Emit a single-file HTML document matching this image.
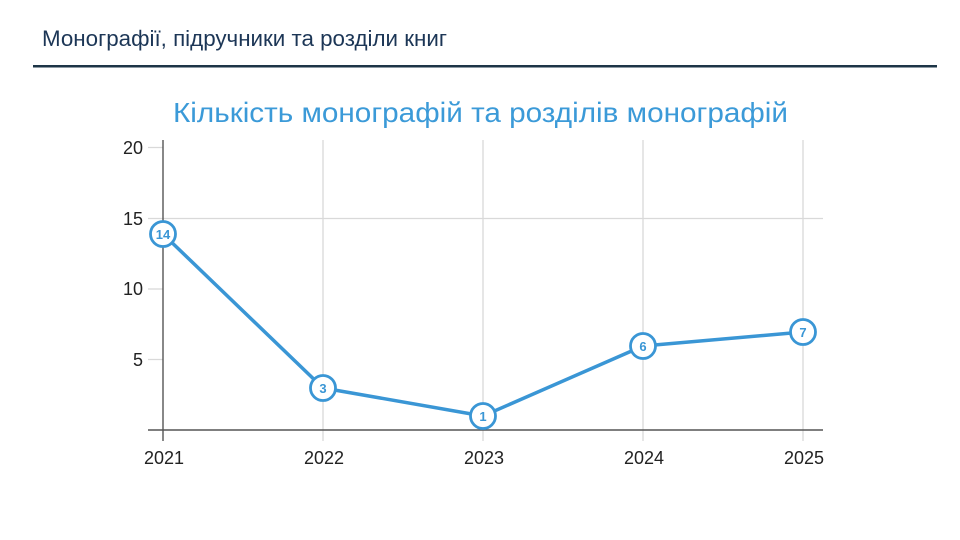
<!DOCTYPE html>
<html>
<head>
<meta charset="utf-8">
<style>
html,body{margin:0;padding:0;background:#fff;}
svg{display:block;}
</style>
</head>
<body>
<svg width="960" height="540" viewBox="0 0 960 540" xmlns="http://www.w3.org/2000/svg">
  <rect width="960" height="540" fill="#fff"/>
  <!-- header -->
  <text x="42" y="46" font-family="'Liberation Sans', sans-serif" font-size="22" fill="#1c3656" textLength="405" lengthAdjust="spacingAndGlyphs">Монографії, підручники та розділи книг</text>
  <rect x="33" y="65" width="904" height="2.5" fill="#1d3547"/>
  <!-- chart title -->
  <text x="480.5" y="122" text-anchor="middle" font-family="'Liberation Sans', sans-serif" font-size="28" fill="#3b9ad8" textLength="615" lengthAdjust="spacingAndGlyphs">Кількість монографій та розділів монографій</text>
  <!-- grid -->
  <g stroke="#d9d9d9" stroke-width="1.3">
    <line x1="148" y1="218.5" x2="823" y2="218.5"/>
    <line x1="323" y1="140" x2="323" y2="441"/>
    <line x1="483" y1="140" x2="483" y2="441"/>
    <line x1="643" y1="140" x2="643" y2="441"/>
    <line x1="803" y1="140" x2="803" y2="441"/>
    <line x1="148" y1="147.5" x2="163" y2="147.5"/>
    <line x1="148" y1="289" x2="163" y2="289"/>
    <line x1="148" y1="359.5" x2="163" y2="359.5"/>
  </g>
  <!-- axes -->
  <g stroke="#555" stroke-width="1.4">
    <line x1="163" y1="140" x2="163" y2="441"/>
    <line x1="148" y1="430" x2="823" y2="430"/>
  </g>
  <!-- y labels -->
  <g font-family="'Liberation Sans', sans-serif" font-size="18" fill="#222" text-anchor="end">
    <text x="143" y="154">20</text>
    <text x="143" y="225">15</text>
    <text x="143" y="295">10</text>
    <text x="143" y="366">5</text>
  </g>
  <!-- x labels -->
  <g font-family="'Liberation Sans', sans-serif" font-size="18" fill="#222" text-anchor="middle">
    <text x="164" y="464">2021</text>
    <text x="324" y="464">2022</text>
    <text x="484" y="464">2023</text>
    <text x="644" y="464">2024</text>
    <text x="804" y="464">2025</text>
  </g>
  <!-- series -->
  <polyline points="163,234 323,388 483,416 643,346 803,332" fill="none" stroke="#3a96d5" stroke-width="3.5" stroke-linejoin="round"/>
  <g fill="#fff" stroke="#3a96d5" stroke-width="2.8">
    <circle cx="163" cy="234" r="12.5"/>
    <circle cx="323" cy="388" r="12.5"/>
    <circle cx="483" cy="416" r="12.5"/>
    <circle cx="643" cy="346" r="12.5"/>
    <circle cx="803" cy="332" r="12.5"/>
  </g>
  <g font-family="'Liberation Sans', sans-serif" font-size="13" font-weight="bold" fill="#3a96d5" text-anchor="middle">
    <text x="163" y="239">14</text>
    <text x="323" y="393">3</text>
    <text x="483" y="421">1</text>
    <text x="643" y="351">6</text>
    <text x="803" y="337">7</text>
  </g>
</svg>
</body>
</html>
